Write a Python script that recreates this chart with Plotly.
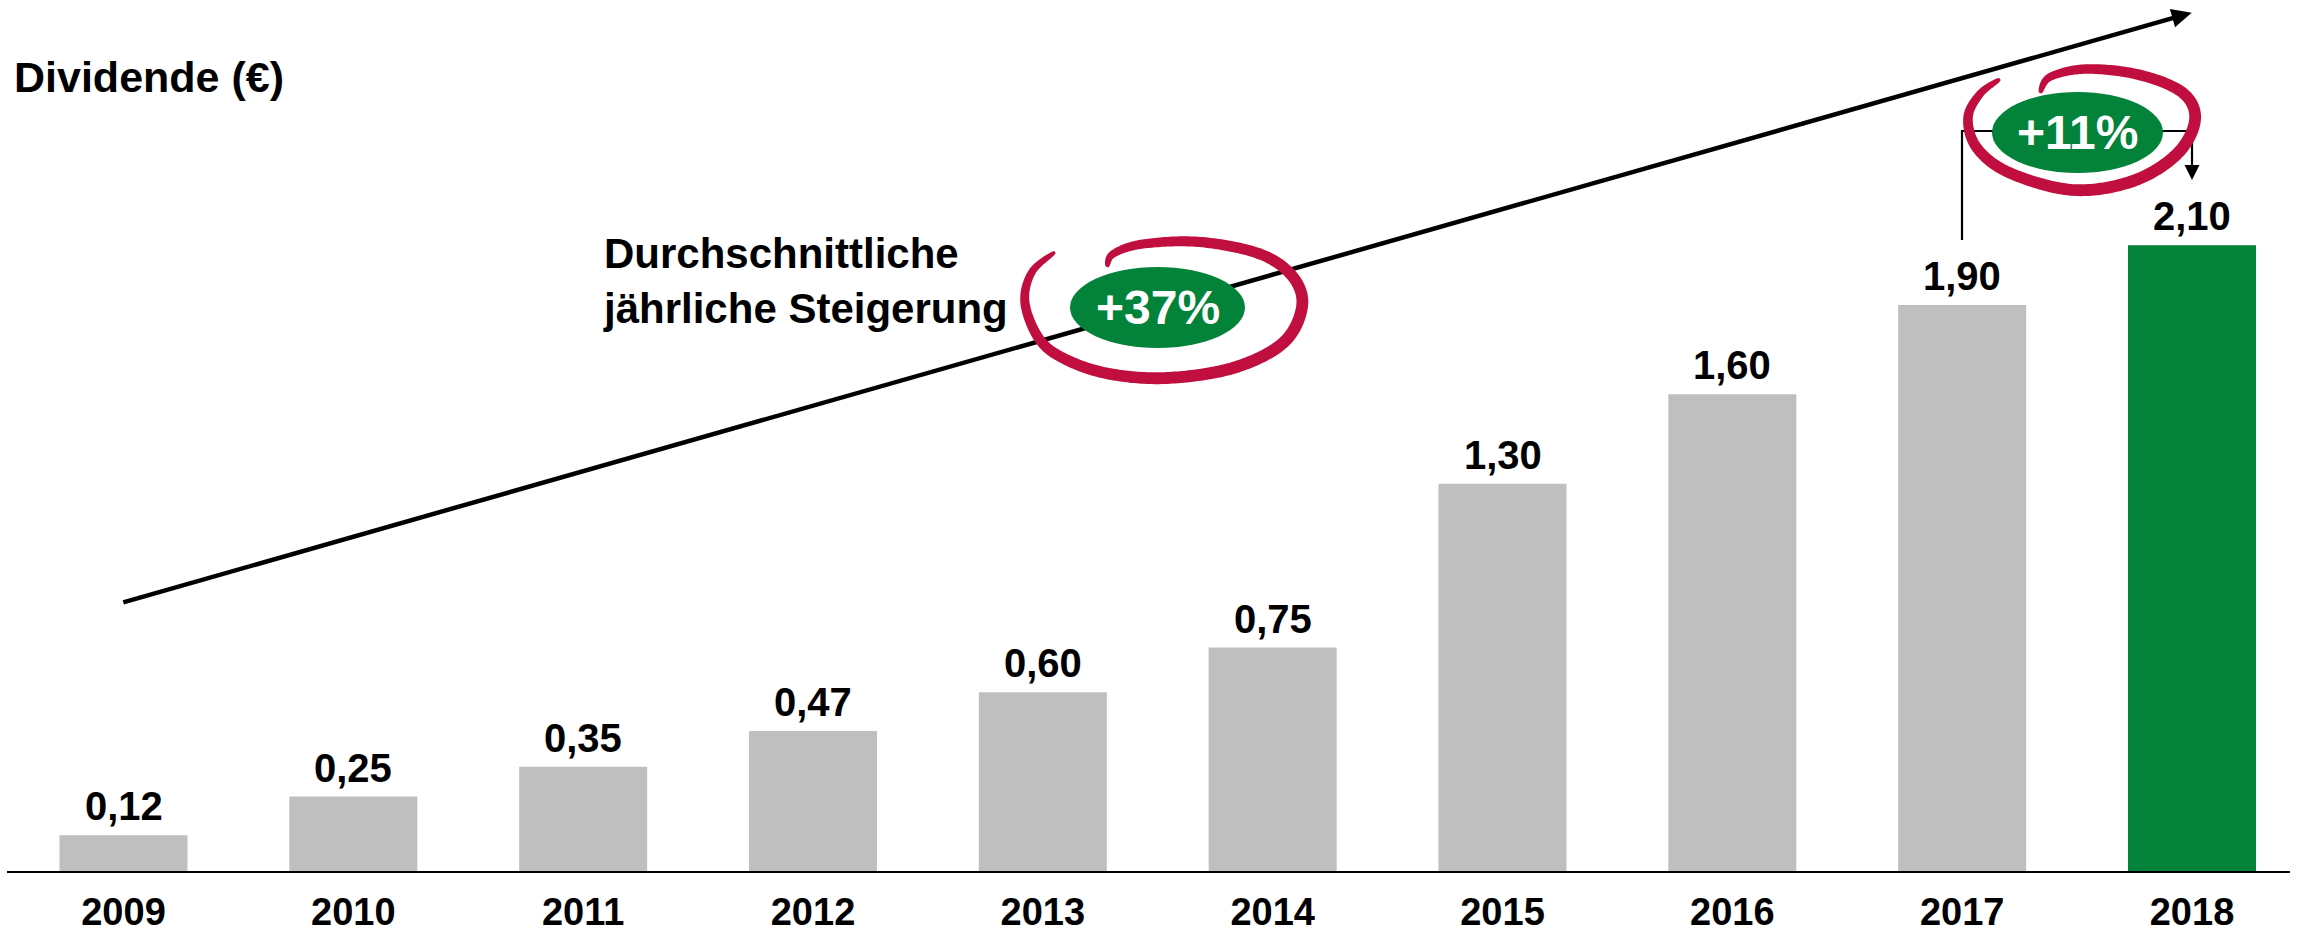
import numpy as np
import plotly.graph_objects as go

# ---------------- data ----------------
years = ["2009", "2010", "2011", "2012", "2013", "2014", "2015", "2016", "2017", "2018"]
dividends = [0.12, 0.25, 0.35, 0.47, 0.60, 0.75, 1.30, 1.60, 1.90, 2.10]
y_title = "Dividende (€)"
cagr_label = "+37%"
cagr_text = "Durchschnittliche<br>jährliche Steigerung"
yoy_label = "+11%"

# ---------------- style / layout ----------------
W, H = 2315, 933
ML, MR, MT, MB = 7, 25, 0, 62
PW, PH = W - ML - MR, H - MT - MB
GRAY = "#BFBFBF"
GREEN = "#03823A"
RED = "#C00F3F"
FONT = "Liberation Sans, Arial, sans-serif"


def px(x):
    return (x - ML) / PW


def py(y):
    return (H - MB - y) / PH


def catmull(pts, n=24):
    pts = np.array(pts, float)
    P = np.vstack([pts[0], pts, pts[-1]])
    out = []
    for i in range(1, len(P) - 2):
        p0, p1, p2, p3 = P[i - 1], P[i], P[i + 1], P[i + 2]
        for t in np.linspace(0, 1, n, endpoint=False):
            t2, t3 = t * t, t * t * t
            out.append(0.5 * ((2 * p1) + (-p0 + p2) * t + (2 * p0 - 5 * p1 + 4 * p2 - p3) * t2
                              + (-p0 + 3 * p1 - 3 * p2 + p3) * t3))
    out.append(P[-2])
    return np.array(out)


def brush_path(pts, wmax):
    c = catmull(pts)
    d = np.gradient(c, axis=0)
    nrm = np.stack([-d[:, 1], d[:, 0]], 1)
    nrm /= np.linalg.norm(nrm, axis=1)[:, None]
    s = np.linspace(0, 1, len(c))
    w = wmax * np.clip(np.sin(np.pi * s) ** 0.3, 0.2, 1)
    left = c + nrm * w[:, None] / 2
    right = c - nrm * w[:, None] / 2
    poly = np.vstack([left, right[::-1]])
    return "M " + " L ".join(f"{px(x):.5f},{py(y):.5f}" for x, y in poly) + " Z"


colors = [GRAY] * (len(years) - 1) + [GREEN]
spacing = 229.83
xr = [-(123.5 - ML) / spacing, 9 + (ML + PW - 2192) / spacing]
yr = [0, PH / 297.95]

fig = go.Figure()
fig.add_trace(go.Bar(x=years, y=dividends, marker=dict(color=colors, line=dict(width=0)),
                     width=0.557, hoverinfo="skip"))

annotations = []
for i, v in enumerate(dividends):
    annotations.append(dict(x=i, y=v, xref="x", yref="y", yanchor="bottom", yshift=5,
                            text=f"<b>{v:.2f}</b>".replace(".", ","), showarrow=False,
                            font=dict(family=FONT, size=40, color="black")))

annotations += [
    dict(x=px(12), y=py(77), xref="paper", yref="paper", xanchor="left", yanchor="middle",
         text=f"<b>{y_title}</b>", showarrow=False, font=dict(family=FONT, size=43, color="black")),
    dict(x=px(601), y=py(281), xref="paper", yref="paper", xanchor="left", yanchor="middle",
         align="left", text=f"<b>{cagr_text}</b>", showarrow=False,
         font=dict(family=FONT, size=42, color="black")),
    dict(x=px(1157.5), y=py(307.5), xref="paper", yref="paper", xanchor="center", yanchor="middle",
         text=f"<b>{cagr_label}</b>", showarrow=False, font=dict(family=FONT, size=48, color="white")),
    dict(x=px(2077.5), y=py(132.5), xref="paper", yref="paper", xanchor="center", yanchor="middle",
         text=f"<b>{yoy_label}</b>", showarrow=False, font=dict(family=FONT, size=48, color="white")),
]

shapes = []
# big trend arrow
x0a, y0a, xt, yt = 123.3, 602.3, 2191.7, 12.7
u = np.array([xt - x0a, yt - y0a]); u /= np.linalg.norm(u)
nv = np.array([-u[1], u[0]])
base = np.array([xt, yt]) - 20 * u
shapes.append(dict(type="line", xref="paper", yref="paper", x0=px(x0a), y0=py(y0a),
                   x1=px(base[0] + 2 * u[0]), y1=py(base[1] + 2 * u[1]),
                   line=dict(color="black", width=4.5)))
h1, h2 = base + 9.5 * nv, base - 9.5 * nv
shapes.append(dict(type="path", xref="paper", yref="paper",
                   path=f"M {px(xt)},{py(yt)} L {px(h1[0])},{py(h1[1])} L {px(h2[0])},{py(h2[1])} Z",
                   fillcolor="black", line=dict(width=0)))
# YoY connector
shapes.append(dict(type="path", xref="paper", yref="paper",
                   path=f"M {px(1962)},{py(240)} L {px(1962)},{py(131)} L {px(2192)},{py(131)} L {px(2192)},{py(166)}",
                   line=dict(color="black", width=2.2)))
shapes.append(dict(type="path", xref="paper", yref="paper",
                   path=f"M {px(2184.5)},{py(165)} L {px(2199.5)},{py(165)} L {px(2192)},{py(180)} Z",
                   fillcolor="black", line=dict(width=0)))
# red brush loops
loop37 = [(1055, 252), (1032, 272), (1025, 303), (1040, 340), (1067, 360), (1110, 374),
          (1167, 378), (1233, 368), (1283, 343), (1302, 307), (1293, 277), (1260, 254),
          (1200, 242), (1143, 244), (1113, 254), (1107, 267)]
loop11 = [(2000, 79), (1980, 94), (1968, 118), (1977, 148), (2010, 173), (2073, 190),
          (2133, 181), (2177, 154), (2195, 120), (2183, 93), (2140, 75), (2087, 69),
          (2050, 77), (2040, 93)]
for lp in (loop37, loop11):
    shapes.append(dict(type="path", xref="paper", yref="paper", path=brush_path(lp, 12),
                       fillcolor=RED, line=dict(width=0)))
# green ellipses
shapes.append(dict(type="circle", xref="paper", yref="paper", x0=px(1070), x1=px(1245),
                   y0=py(348), y1=py(267), fillcolor=GREEN, line=dict(width=0)))
shapes.append(dict(type="circle", xref="paper", yref="paper", x0=px(1992), x1=px(2163),
                   y0=py(173), y1=py(92), fillcolor=GREEN, line=dict(width=0)))

fig.update_layout(
    width=W, height=H, margin=dict(l=ML, r=MR, t=MT, b=MB, autoexpand=False),
    paper_bgcolor="white", plot_bgcolor="white", showlegend=False,
    xaxis=dict(type="category", range=xr, showgrid=False, zeroline=False, showline=True,
               linecolor="black", linewidth=2, ticks="", ticklabelstandoff=6, automargin=False,
               tickfont=dict(family=FONT, size=38, color="black", weight="bold")),
    yaxis=dict(range=yr, visible=False, showgrid=False, zeroline=False, automargin=False),
    annotations=annotations, shapes=shapes,
)

fig.write_html("out.html", config={"displayModeBar": False},
               post_script="document.body.style.margin='0';document.body.style.padding='0';"
                           "document.body.style.overflow='hidden';")
